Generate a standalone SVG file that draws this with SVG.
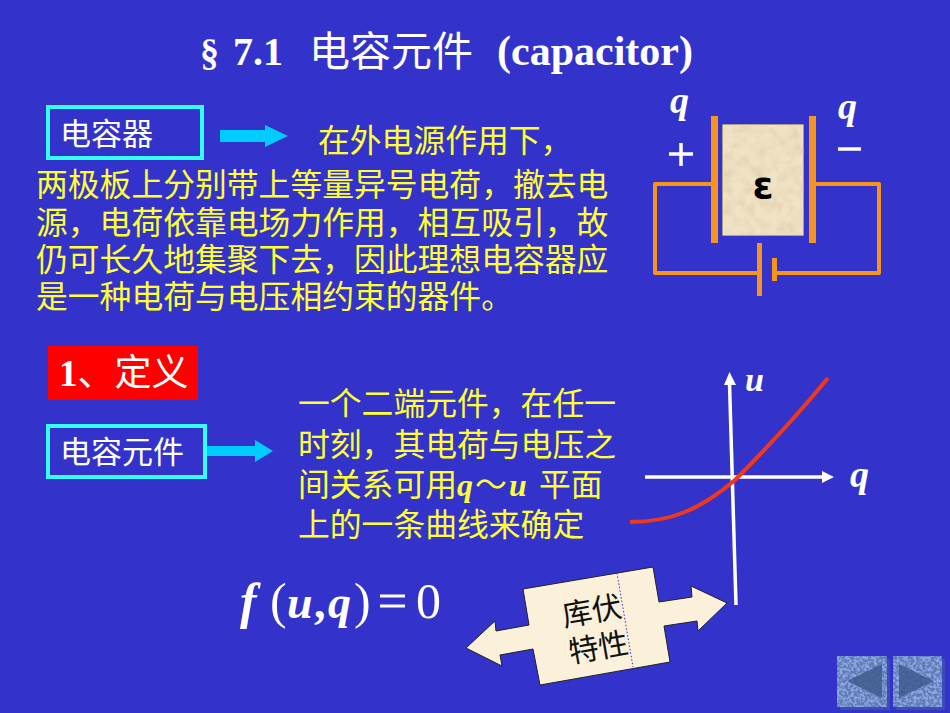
<svg xmlns="http://www.w3.org/2000/svg" width="950" height="713" viewBox="0 0 950 713">
<style>
.cn{font-family:"Liberation Serif","Noto Sans CJK SC",serif;font-size:31.800px;fill:#ffff33}
.t{font-family:"Noto Sans CJK SC",sans-serif;fill:#fff}
.q{font-family:"Liberation Serif",serif;font-style:italic;font-weight:bold;fill:#fff}
.w{fill:none;stroke:#f7941d;stroke-linejoin:round}
.box{fill:#3333cc;stroke:#33ffff;stroke-width:4}
.arr{fill:#00ccff}
.ax{stroke:#fff;stroke-width:3.500;fill:none}
</style>
<defs>
<filter id="paper" x="0" y="0" width="100%" height="100%">
<feTurbulence type="fractalNoise" baseFrequency="0.09" numOctaves="3" seed="4"/>
<feColorMatrix values="0 0 0 0 .62  0 0 0 0 .48  0 0 0 0 .28  .8 0 0 0 -.3"/>
<feComposite in2="SourceGraphic" operator="atop"/>
<feMerge><feMergeNode in="SourceGraphic"/><feMergeNode/></feMerge>
</filter>
<filter id="weave" x="0" y="0" width="100%" height="100%">
<feTurbulence type="fractalNoise" baseFrequency="0.35" numOctaves="2" seed="7"/>
<feColorMatrix values="0 0 0 0 .12  0 0 0 0 .2  0 0 0 0 .45  5 0 0 0 -1.900"/>
<feComposite in2="SourceAlpha" operator="in"/>
<feMerge><feMergeNode in="SourceGraphic"/><feMergeNode/></feMerge>
</filter>
</defs>
<rect width="950" height="713" fill="#3333cc"/>
<g id="title">
<text x="200" y="65" font-family="Liberation Serif,serif" font-weight="bold" font-size="38" fill="#fff">§</text>
<text x="233" y="65" font-family="Liberation Serif,serif" font-weight="bold" font-size="40" fill="#fff">7.1</text>
<text x="309" y="66" font-family="Noto Sans CJK SC,sans-serif" font-size="41" fill="#fff">电容元件</text>
<text x="497" y="65" font-family="Liberation Serif,serif" font-weight="bold" font-size="42" fill="#fff">(capacitor)</text>
</g>
<g id="connectors">
<path class="arr" d="M220 130H265V125L288 136L265 147V142H220Z"/>
<path class="arr" d="M206 446H255V440L273 451L255 462V456H206Z"/>
</g>
<g id="node-capacitor">
<rect class="box" x="48" y="107" width="154" height="51"/>
<text class="t" x="60" y="145" font-size="31">电容器</text>
</g>
<g id="node-element">
<rect class="box" x="48" y="426" width="157" height="51"/>
<text class="t" x="60" y="463" font-size="31">电容元件</text>
</g>
<g id="node-def">
<rect x="48" y="346" width="150" height="54" fill="#ff0000"/>
<text x="59" y="386" font-family="Liberation Serif,'Noto Sans CJK SC',serif" font-size="37" fill="#fff"><tspan font-weight="bold">1</tspan>、定义</text>
</g>
<g id="para1">
<text class="cn" x="318" y="152">在外电源作用下，</text>
<text class="cn" x="36" y="196">两极板上分别带上等量异号电荷，撤去电</text>
<text class="cn" x="36" y="234">源，电荷依靠电场力作用，相互吸引，故</text>
<text class="cn" x="36" y="271">仍可长久地集聚下去，因此理想电容器应</text>
<text class="cn" x="36" y="308">是一种电荷与电压相约束的器件。</text>
</g>
<g id="para2">
<text class="cn" x="298" y="415">一个二端元件，在任一</text>
<text class="cn" x="298" y="456">时刻，其电荷与电压之</text>
<text class="cn" x="298" y="496">间关系可用<tspan font-style="italic" font-weight="bold">q</tspan><tspan x="475">～</tspan><tspan x="509" font-style="italic" font-weight="bold">u</tspan><tspan x="539">平面</tspan></text>
<text class="cn" x="298" y="536">上的一条曲线来确定</text>
</g>
<g id="circuit">
<path class="w" stroke-width="4" d="M714 184H655V273H759M775 273H879V184H812"/>
<rect x="711" y="116" width="7" height="127" fill="#f7941d"/>
<rect x="809" y="116" width="7" height="127" fill="#f7941d"/>
<rect x="757" y="243" width="5" height="53" fill="#f7941d"/>
<rect x="772" y="258" width="5" height="23" fill="#f7941d"/>
<rect x="722" y="124" width="82" height="112" fill="#f0e2c4" stroke="#555" stroke-width="1" filter="url(#paper)"/>
<text x="763" y="198" text-anchor="middle" font-family="DejaVu Sans,sans-serif" font-weight="bold" font-size="38" fill="#000">ε</text>
<text class="q" x="670" y="113" font-size="38">q</text>
<text class="q" x="838" y="119" font-size="38">q</text>
<path d="M669 154H693M681 143V166M838 149H861" stroke="#fff" stroke-width="3.500" fill="none"/>
</g>
<g id="graph">
<path class="ax" d="M645 477H822"/>
<path fill="#fff" d="M822 471L834 477L822 483Z"/>
<path class="ax" d="M729.500 383L736 605"/>
<path fill="#fff" d="M724 385L729.500 372L736 385Z"/>
<path d="M630 522C670 522 700 510 735 480C770 445 800 412 828 378" fill="none" stroke="#f0381a" stroke-width="4"/>
<text class="q" x="745" y="391" font-size="34">u</text>
<text class="q" x="850" y="487" font-size="38">q</text>
</g>
<g id="formula" font-family="Liberation Serif,serif" fill="#fff">
<text x="240" y="618" font-size="50" font-style="italic" font-weight="bold">f</text>
<text x="270" y="618" font-size="50">(</text>
<text x="287" y="618" font-size="46" font-style="italic" font-weight="bold">u</text>
<text x="314" y="618" font-size="46" font-weight="bold">,</text>
<text x="328" y="618" font-size="46" font-style="italic" font-weight="bold">q</text>
<text x="354" y="618" font-size="50">)</text>
<path d="M380 596H405M380 606H405" stroke="#fff" stroke-width="3"/>
<text x="416" y="618" font-size="50">0</text>
</g>
<g id="node-coulomb">
<path d="M523 589L653 567L659 602L692 597L691 586L727 603L698 631L697 621L664 626L670 662L540 685L533 649L500 655L502 666L466 648L495 621L496 631L529 625Z" fill="#fbf0da" stroke="#222" stroke-width="1"/>
<path d="M617 573L633 667" stroke="#3333cc" stroke-width="1" stroke-dasharray="1.500 2" fill="none"/>
<g transform="rotate(-10 597 628)" font-family="Noto Sans CJK SC,sans-serif" font-size="30" fill="#111">
<text x="595" y="621" text-anchor="middle">库伏</text>
<text x="595" y="658" text-anchor="middle">特性</text>
</g>
</g>
<g id="nav">
<rect x="840" y="659" width="50" height="51" fill="#3f57b0" opacity=".7"/>
<rect x="837" y="656" width="50" height="51" fill="#8aa6e6" filter="url(#weave)"/>
<path d="M847 681L882 664V698Z" fill="#3f5a8c" opacity=".85"/>
<rect x="896" y="659" width="49" height="51" fill="#3f57b0" opacity=".7"/>
<rect x="893" y="656" width="49" height="51" fill="#8aa6e6" filter="url(#weave)"/>
<path d="M899 664L934 681L899 698Z" fill="#3f5a8c" opacity=".85"/>
</g>
</svg>
